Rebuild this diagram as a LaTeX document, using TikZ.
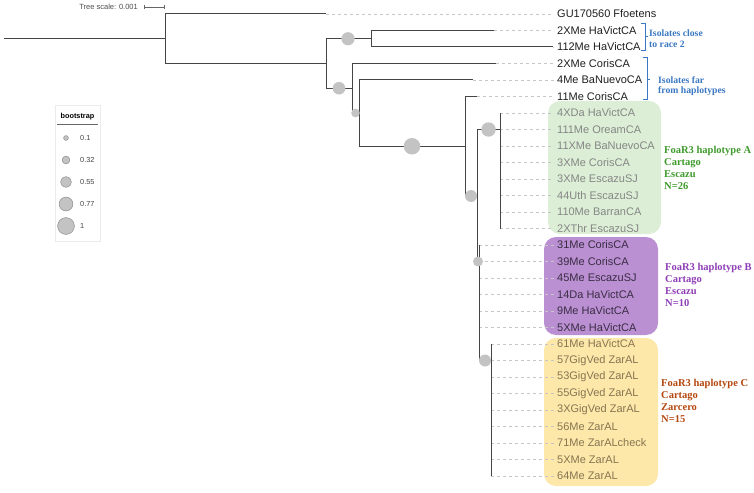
\documentclass[tikz,border=0pt]{standalone}
\usepackage{fontspec}
\setmainfont{Liberation Serif}
\setsansfont{Liberation Sans}
\usepackage{tikz}

\definecolor{branchc}{HTML}{454545}
\definecolor{bootc}{HTML}{C3C3C3}
\definecolor{guidec}{HTML}{C6C6C6}
\definecolor{fillA}{HTML}{DCEFD6}
\definecolor{fillB}{HTML}{BA90D2}
\definecolor{fillC}{HTML}{FDE8A9}
\definecolor{textA}{HTML}{858585}
\definecolor{textB}{HTML}{3A2C44}
\definecolor{textC}{HTML}{867552}
\definecolor{labA}{HTML}{3E9A2C}
\definecolor{labB}{HTML}{8E3DB6}
\definecolor{labC}{HTML}{B4470F}
\definecolor{labblue}{HTML}{3B78C2}

\tikzset{
    leaf/.style = {anchor = west, inner sep = 0pt, font = \sffamily\fontsize{11}{11}\selectfont},
    twig/.style = {draw = branchc, line width = 1pt},
    guide/.style = {draw = guidec, line width = 0.6pt, dash pattern = on 3pt off 3pt},
    note/.style = {anchor = west, inner sep = 0pt, align = left, font = \bfseries\fontsize{10.5}{12}\selectfont},
    isonote/.style = {anchor = west, inner sep = 0pt, align = left, font = \bfseries\fontsize{9.7}{10.5}\selectfont, text = labblue},
    keytext/.style = {anchor = west, inner sep = 0pt, text = black!75, font = \sffamily\fontsize{7.3}{7.3}\selectfont}
}

\begin{document}
\begin{tikzpicture}[x = 1pt, y = -1pt]
    \useasboundingbox (0,0) rectangle (754,492);

    % group backgrounds
    \fill [fillA, rounded corners = 12pt] (548,101) rectangle (661,234);
    \fill [fillB, rounded corners = 12pt] (544,237) rectangle (658,335);
    \fill [fillC, rounded corners = 12pt] (544,338) rectangle (658,486);

    % leaves
    \foreach \lab/\tip [count = \i from 0] in {GU170560 Ffoetens/326, 2XMe HaVictCA/494,
        112Me HaVictCA/553, 2XMe CorisCA/496, 4Me BaNuevoCA/473, 11Me CorisCA/477} {
        \node [leaf, text = black!88] (l\i) at (557, {14 + 16.5*\i}) {\lab};
        \coordinate (t\i) at (\tip, {14 + 16.5*\i});
    }
    \foreach \lab [count = \i from 6] in {4XDa HaVictCA, 111Me OreamCA, 11XMe BaNuevoCA,
        3XMe CorisCA, 3XMe EscazuSJ, 44Uth EscazuSJ, 110Me BarranCA, 2XThr EscazuSJ} {
        \node [leaf, text = textA] (l\i) at (557, {14 + 16.5*\i}) {\lab};
        \coordinate (t\i) at (500, {14 + 16.5*\i});
    }
    \foreach \lab [count = \i from 14] in {31Me CorisCA, 39Me CorisCA, 45Me EscazuSJ,
        14Da HaVictCA, 9Me HaVictCA, 5XMe HaVictCA} {
        \node [leaf, text = textB] (l\i) at (557, {14 + 16.5*\i}) {\lab};
        \coordinate (t\i) at (479, {14 + 16.5*\i});
    }
    \foreach \lab [count = \i from 20] in {61Me HaVictCA, 57GigVed ZarAL, 53GigVed ZarAL,
        55GigVed ZarAL, 3XGigVed ZarAL, 56Me ZarAL, 71Me ZarALcheck, 5XMe ZarAL, 64Me ZarAL} {
        \node [leaf, text = textC] (l\i) at (557, {14 + 16.5*\i}) {\lab};
        \coordinate (t\i) at (491, {14 + 16.5*\i});
    }

    % internal nodes
    \coordinate (stem) at (4,38.75);
    \coordinate (root) at (165,38.75);
    \coordinate (n1) at (326,63.5);
    \coordinate (n2) at (371,38.75);
    \coordinate (n3) at (352,88.25);
    \coordinate (n4) at (359,113);
    \coordinate (n5) at (465,146.25);
    \coordinate (n6) at (477,196);
    \coordinate (nA) at (500,129.5);
    \coordinate (n7) at (479,261.5);
    \coordinate (nC) at (491,360.5);

    \foreach \i in {0,...,28}
        \draw [guide] (t\i) -- ([xshift = -3pt]l\i.west);

    \draw [twig] (stem) -- (root);
    \draw [twig] (root) |- (t0);
    \draw [twig] (root) |- (n1);
    \draw [twig] (n1) |- (n2);
    \draw [twig] (n1) |- (n3);
    \draw [twig] (n2) |- (t1);
    \draw [twig] (n2) |- (t2);
    \draw [twig] (n3) |- (t3);
    \draw [twig] (n3) |- (n4);
    \draw [twig] (n4) |- (t4);
    \draw [twig] (n4) |- (n5);
    \draw [twig] (n5) |- (t5);
    \draw [twig] (n5) |- (n6);
    \draw [twig] (n6) |- (nA);
    \draw [twig] (n6) |- (n7);
    \draw [twig] (n7) |- (nC);
    \foreach \i in {6,...,13}
        \draw [twig] (nA) |- (t\i);
    \foreach \i in {14,...,19}
        \draw [twig] (n7) |- (t\i);
    \foreach \i in {20,...,28}
        \draw [twig] (nC) |- (t\i);

    % bootstrap dots
    \fill [bootc] (348,38.75) circle (6.6pt);
    \fill [bootc] (339,88.25) circle (6.3pt);
    \fill [bootc] (355.5,113) circle (4.3pt);
    \fill [bootc] (412,146.25) circle (8.3pt);
    \fill [bootc] (471,196) circle (6pt);
    \fill [bootc] (488.5,129.5) circle (7.2pt);
    \fill [bootc] (478,261.5) circle (5pt);
    \fill [bootc] (485,360.5) circle (6pt);

    % clade notes
    \node [note, text = labA] (noteA) at (664,168) {FoaR3 haplotype A\\Cartago\\Escazu\\N=26};
    \node [note, text = labB] (noteB) at (665,285) {FoaR3 haplotype B\\Cartago\\Escazu\\N=10};
    \node [note, text = labC] (noteC) at (661,401) {FoaR3 haplotype C\\Cartago\\Zarcero\\N=15};

    \draw [labblue, line width = 0.7pt] (641,23) -- (645,23) -- (645,50) -- (641,50);
    \draw [labblue, line width = 0.7pt] (645,36.5) -- (647.5,36.5);
    \node [isonote] (race) at (649,38.5) {Isolates close\\to race 2};
    \draw [labblue, line width = 0.7pt] (643,57) -- (647,57) -- (647,99) -- (643,99);
    \draw [labblue, line width = 0.7pt] (647,79) -- (650,79);
    \node [isonote] (far) at (658,86) {Isolates far\\from haplotypes};

    % tree scale
    \node [anchor = east, inner sep = 0pt, text = black!70, font = \sffamily\fontsize{7.5}{7.5}\selectfont] (scale) at (138,7) {Tree scale: 0.001};
    \draw [black!60, line width = 0.6pt] (144,5) -- (144,9) (144,7) -- (164,7) (164,5) -- (164,9);

    % legend
    \draw [black!8] (55,105) rectangle (100,241);
    \node [inner sep = 0pt, font = \sffamily\bfseries\fontsize{7.3}{7.3}\selectfont] (keytitle) at (77.5,117) {bootstrap};
    \draw [black!60, line width = 0.6pt] (57,124) -- (98,124);
    \foreach \val/\r [count = \k from 0] in {0.1/2.4, 0.32/3.9, 0.55/5.4, 0.77/6.9, 1/8.4} {
        \draw [fill = bootc, draw = black!45, line width = 0.5pt] (66, {138 + 22*\k}) circle (\r pt);
        \node [keytext] (key\k) at (80, {138 + 22*\k}) {\val};
    }
\end{tikzpicture}
\end{document}
